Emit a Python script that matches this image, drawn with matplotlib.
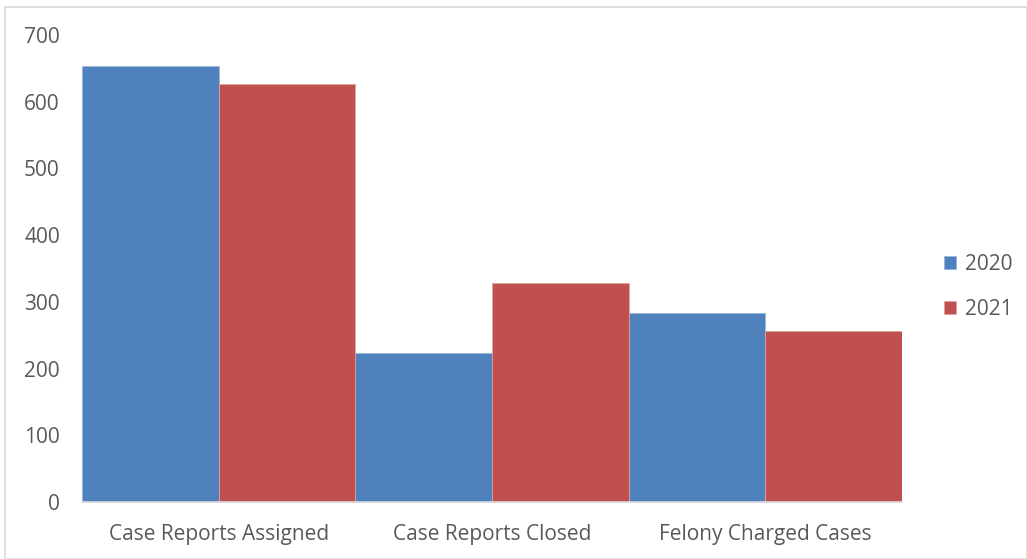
import matplotlib
matplotlib.use("Agg")
import matplotlib.pyplot as plt
import numpy as np
from matplotlib.patches import Rectangle

categories = ["Case Reports Assigned", "Case Reports Closed", "Felony Charged Cases"]
values_2020 = [653, 224, 283]
values_2021 = [627, 328, 257]

plt.rcParams["font.family"] = ["Open Sans", "DejaVu Sans"]
text_color = "#595959"

fig = plt.figure(figsize=(10.27, 5.59), dpi=100)
ax = fig.add_axes([82 / 1027, 57 / 559, 820 / 1027, 467 / 559])

x = np.arange(len(categories))
w = 0.5
ax.bar(x - w / 2, values_2020, width=w, color="#4F81BD", edgecolor="#9DB7DC",
       linewidth=0.6, label="2020")
ax.bar(x + w / 2, values_2021, width=w, color="#C0504D", edgecolor="#DFA3A1",
       linewidth=0.6, label="2021")

ax.set_xlim(-0.5, len(categories) - 0.5)
ax.set_ylim(0, 700)
ax.set_yticks(range(0, 701, 100))
ax.set_xticks(x)
ax.set_xticklabels(categories)
ax.tick_params(length=0, labelsize=15, colors=text_color)
ax.tick_params(axis="y", pad=16)
ax.tick_params(axis="x", pad=16)
for side in ["top", "right", "left"]:
    ax.spines[side].set_visible(False)
ax.spines["bottom"].set_color("#D9D9D9")
ax.spines["bottom"].set_linewidth(1.2)

leg = ax.legend(loc="center left", bbox_to_anchor=(1.028, 0.46), frameon=False,
                fontsize=15, handlelength=0.6, handleheight=0.6,
                handletextpad=0.4, labelspacing=1.15)
for t in leg.get_texts():
    t.set_color(text_color)

fig.patches.append(Rectangle((5 / 1027, 0), 1 - 5 / 1027, 1 - 7 / 559,
                             transform=fig.transFigure, fill=False,
                             edgecolor="#D9D9D9", linewidth=1.2))

fig.savefig("out.png", dpi=100)
